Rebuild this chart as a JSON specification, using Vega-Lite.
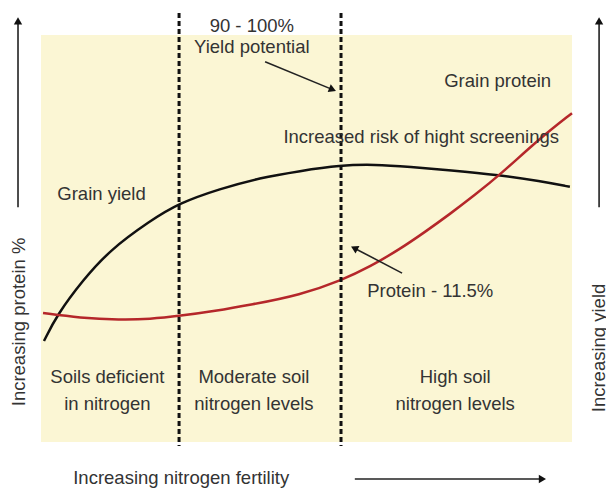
{
  "$schema": "https://vega.github.io/schema/vega-lite/v6.json",
  "width": 531,
  "height": 407,
  "autosize": "none",
  "padding": {"left": 41, "top": 35, "right": 34, "bottom": 46},
  "background": "#ffffff",
  "config": {
    "view": {"fill": "#fbf6d4", "stroke": null},
    "text": {"font": "Liberation Sans", "fontSize": 18.5, "color": "#333333"}
  },
  "layer": [
    {
      "data": {"values": [
        {"series": "Grain yield", "n": 0.56, "v": 24.8},
        {"series": "Grain yield", "n": 3.0, "v": 31.2},
        {"series": "Grain yield", "n": 7.9, "v": 39.8},
        {"series": "Grain yield", "n": 13.0, "v": 47.2},
        {"series": "Grain yield", "n": 20.5, "v": 54.3},
        {"series": "Grain yield", "n": 26.0, "v": 58.7},
        {"series": "Grain yield", "n": 33.7, "v": 62.2},
        {"series": "Grain yield", "n": 41.2, "v": 64.9},
        {"series": "Grain yield", "n": 48.8, "v": 66.6},
        {"series": "Grain yield", "n": 56.3, "v": 68.0},
        {"series": "Grain yield", "n": 62.9, "v": 68.2},
        {"series": "Grain yield", "n": 69.5, "v": 67.6},
        {"series": "Grain yield", "n": 77.0, "v": 66.8},
        {"series": "Grain yield", "n": 86.4, "v": 65.6},
        {"series": "Grain yield", "n": 94.0, "v": 64.1},
        {"series": "Grain yield", "n": 99.6, "v": 62.7},
        {"series": "Protein", "n": 0.38, "v": 31.7},
        {"series": "Protein", "n": 7.3, "v": 30.5},
        {"series": "Protein", "n": 14.9, "v": 30.0},
        {"series": "Protein", "n": 20.5, "v": 30.2},
        {"series": "Protein", "n": 26.2, "v": 31.0},
        {"series": "Protein", "n": 32.8, "v": 32.2},
        {"series": "Protein", "n": 39.4, "v": 33.7},
        {"series": "Protein", "n": 48.8, "v": 36.1},
        {"series": "Protein", "n": 56.7, "v": 39.8},
        {"series": "Protein", "n": 62.0, "v": 43.1},
        {"series": "Protein", "n": 67.6, "v": 47.4},
        {"series": "Protein", "n": 72.3, "v": 51.6},
        {"series": "Protein", "n": 77.0, "v": 56.0},
        {"series": "Protein", "n": 81.7, "v": 60.7},
        {"series": "Protein", "n": 86.4, "v": 65.6},
        {"series": "Protein", "n": 94.0, "v": 74.7},
        {"series": "Protein", "n": 100.0, "v": 80.8}
      ]},
      "mark": {"type": "line", "interpolate": "basis", "strokeWidth": 2.5},
      "encoding": {
        "x": {"field": "n", "type": "quantitative", "scale": {"domain": [0, 100], "nice": false, "zero": false}, "axis": null},
        "y": {"field": "v", "type": "quantitative", "scale": {"domain": [0, 100], "nice": false, "zero": false}, "axis": null},
        "color": {"field": "series", "type": "nominal", "scale": {"domain": ["Grain yield", "Protein"], "range": ["#111111", "#b5272a"]}, "legend": null}
      }
    },
    {
      "data": {"values": [
        {"n": 26.0, "top": 105.4, "bottom": -1.0},
        {"n": 56.5, "top": 105.4, "bottom": -1.0}
      ]},
      "mark": {"type": "rule", "strokeDash": [5, 3], "strokeWidth": 3, "color": "#111111"},
      "encoding": {
        "x": {"field": "n", "type": "quantitative"},
        "y": {"field": "top", "type": "quantitative"},
        "y2": {"field": "bottom"}
      }
    },
    {
      "data": {"values": [
        {"n1": 42.2, "v1": 93.4, "n2": 54.7, "v2": 86.7},
        {"n1": 68.0, "v1": 41.5, "n2": 59.2, "v2": 47.5},
        {"n1": 59.1, "v1": -9.1, "n2": 94.2, "v2": -9.1},
        {"n1": -4.33, "v1": 57.7, "n2": -4.33, "v2": 103.2},
        {"n1": 105.1, "v1": 57.7, "n2": 105.1, "v2": 103.2}
      ]},
      "mark": {"type": "rule", "strokeWidth": 1.6, "color": "#222222"},
      "encoding": {
        "x": {"field": "n1", "type": "quantitative"},
        "y": {"field": "v1", "type": "quantitative"},
        "x2": {"field": "n2"},
        "y2": {"field": "v2"}
      }
    },
    {
      "data": {"values": [
        {"n": 54.7, "v": 86.7, "dir": 111.8},
        {"n": 59.2, "v": 47.5, "dir": 297.5},
        {"n": 94.2, "v": -9.1, "dir": 90},
        {"n": -4.33, "v": 103.2, "dir": 0},
        {"n": 105.1, "v": 103.2, "dir": 0}
      ]},
      "mark": {"type": "point", "shape": "triangle", "filled": true, "size": 70, "color": "#111111", "opacity": 1},
      "encoding": {
        "x": {"field": "n", "type": "quantitative"},
        "y": {"field": "v", "type": "quantitative"},
        "angle": {"field": "dir", "type": "quantitative", "scale": null}
      }
    },
    {
      "data": {"values": [
        {"label": "90 - 100%", "n": 39.7, "v": 100.7},
        {"label": "Yield potential", "n": 39.7, "v": 95.6},
        {"label": "Grain protein", "n": 86.0, "v": 87.2},
        {"label": "Increased risk of hight screenings", "n": 71.6, "v": 73.5},
        {"label": "Grain yield", "n": 11.4, "v": 59.5},
        {"label": "Protein - 11.5%", "n": 73.3, "v": 35.6},
        {"label": "Soils deficient", "n": 12.5, "v": 14.5},
        {"label": "in nitrogen", "n": 12.5, "v": 7.9},
        {"label": "Moderate soil", "n": 40.1, "v": 14.5},
        {"label": "nitrogen levels", "n": 40.1, "v": 7.9},
        {"label": "High soil", "n": 78.0, "v": 14.5},
        {"label": "nitrogen levels", "n": 78.0, "v": 7.9},
        {"label": "Increasing nitrogen fertility", "n": 26.4, "v": -10.3}
      ]},
      "mark": {"type": "text", "align": "center", "baseline": "alphabetic"},
      "encoding": {
        "x": {"field": "n", "type": "quantitative"},
        "y": {"field": "v", "type": "quantitative"},
        "text": {"field": "label"}
      }
    },
    {
      "data": {"values": [
        {"label": "Increasing protein %", "n": -3.0, "v": 29.5},
        {"label": "Increasing yield", "n": 106.2, "v": 23.1}
      ]},
      "mark": {"type": "text", "align": "center", "baseline": "alphabetic", "angle": 270},
      "encoding": {
        "x": {"field": "n", "type": "quantitative"},
        "y": {"field": "v", "type": "quantitative"},
        "text": {"field": "label"}
      }
    }
  ]
}
